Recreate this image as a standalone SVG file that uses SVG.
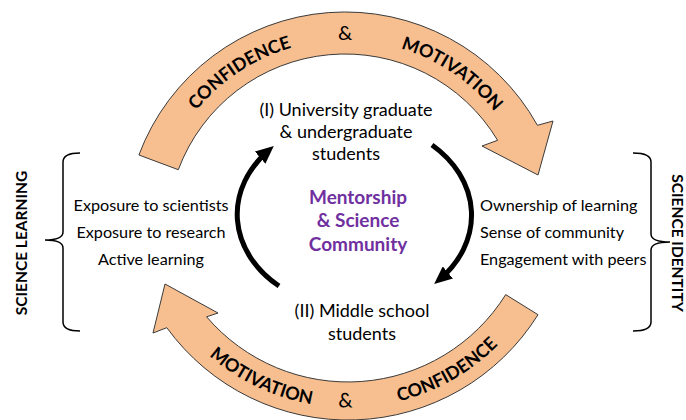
<svg xmlns="http://www.w3.org/2000/svg" width="686" height="420" viewBox="0 0 686 420">
<style>
.band{fill:#F7BF90;stroke:#3a3a3a;stroke-width:1}
.arc{font-family:Lato,"Open Sans",sans-serif;font-weight:bold;font-size:18px;fill:#000}
.amp{font-family:Lato,"Open Sans",sans-serif;font-weight:normal;font-size:20px;fill:#000}
.lbl{font-family:Lato,"Open Sans",sans-serif;font-size:18px;fill:#000;text-anchor:middle}
.item{font-family:Lato,"Open Sans",sans-serif;font-size:16.2px;fill:#000}
.ctr{font-family:Lato,"Open Sans",sans-serif;font-weight:bold;font-size:19px;fill:#7030A0;text-anchor:middle}
.side{font-family:Lato,"Open Sans",sans-serif;font-weight:bold;font-size:15.5px;fill:#000;text-anchor:middle}
.brace{fill:none;stroke:#000;stroke-width:1.5}
.cyc{fill:none;stroke:#000;stroke-width:5}
</style>
<defs>
<marker id="ah" markerUnits="userSpaceOnUse" markerWidth="18" markerHeight="16" viewBox="0 0 18 16" refX="11" refY="8" orient="auto">
<path d="M0,0 L18,8 L0,16 Z" fill="#000"/>
</marker>
<path id="topPath" d="M 164.6 166.3 A 192 192 0 0 1 525.4 166.3" fill="none"/>
<path id="botPath" d="M 143.7 250.7 A 211.5 211.5 0 0 0 552.3 250.7" fill="none"/>
</defs>

<g id="top-arrow">
<path class="band" d="M 138.9 155 A 220 220 0 0 1 537.4 125.3 L 553 121 L 538 175 L 482 146 L 497.6 140.3 A 178 178 0 0 0 178.3 169.7 Z"/>
<text class="arc"><textPath href="#topPath" startOffset="26.1%" text-anchor="middle">CONFIDENCE</textPath></text>
<text class="amp"><textPath href="#topPath" startOffset="50%" text-anchor="middle">&amp;</textPath></text>
<text class="arc"><textPath href="#topPath" startOffset="74.3%" text-anchor="middle">MOTIVATION</textPath></text>
</g>

<g id="bottom-arrow">
<path class="band" d="M 538 314.7 A 224 224 0 0 1 166.8 327.7 L 153 333 L 165 284 L 218 313 L 206.6 316.8 A 186 186 0 0 0 505.7 294.6 Z"/>
<text class="arc"><textPath href="#botPath" startOffset="33%" text-anchor="middle">MOTIVATION</textPath></text>
<text class="amp"><textPath href="#botPath" startOffset="49.5%" text-anchor="middle">&amp;</textPath></text>
<text class="arc"><textPath href="#botPath" startOffset="69.7%" text-anchor="middle">CONFIDENCE</textPath></text>
</g>

<g id="connectors">
<path class="cyc" d="M 279 286 A 118 94 0 0 1 268.5 150.5" marker-end="url(#ah)"/>
<path class="cyc" d="M 432 145 A 118 94 0 0 1 439.5 279.6" marker-end="url(#ah)"/>
</g>

<g id="node-university">
<text class="lbl" x="346" y="116">(I) University graduate</text>
<text class="lbl" x="346" y="138">&amp; undergraduate</text>
<text class="lbl" x="346" y="160">students</text>
</g>

<g id="node-middle-school">
<text class="lbl" x="362" y="317">(II) Middle school</text>
<text class="lbl" x="362" y="340">students</text>
</g>

<g id="node-center">
<text class="ctr" x="358" y="204">Mentorship</text>
<text class="ctr" x="358" y="227">&amp; Science</text>
<text class="ctr" x="358" y="251">Community</text>
</g>

<g id="science-learning">
<path class="brace" d="M 80 153 Q 63 153 63 162 L 63 232 Q 63 240 45 240 Q 63 240 63 248 L 63 322 Q 63 331 80 331"/>
<text class="side" transform="translate(27,243) rotate(-90)">SCIENCE LEARNING</text>
<text class="item" x="151" y="211" text-anchor="middle">Exposure to scientists</text>
<text class="item" x="151" y="238" text-anchor="middle">Exposure to research</text>
<text class="item" x="151" y="265" text-anchor="middle">Active learning</text>
</g>

<g id="science-identity">
<path class="brace" d="M 633 153 Q 651 153 651 162 L 651 234 Q 651 242 670 242 Q 651 242 651 250 L 651 322 Q 651 331 633 331"/>
<text class="side" transform="translate(672,243) rotate(90)">SCIENCE IDENTITY</text>
<text class="item" x="480" y="211">Ownership of learning</text>
<text class="item" x="480" y="238">Sense of community</text>
<text class="item" x="480" y="265">Engagement with peers</text>
</g>
</svg>
